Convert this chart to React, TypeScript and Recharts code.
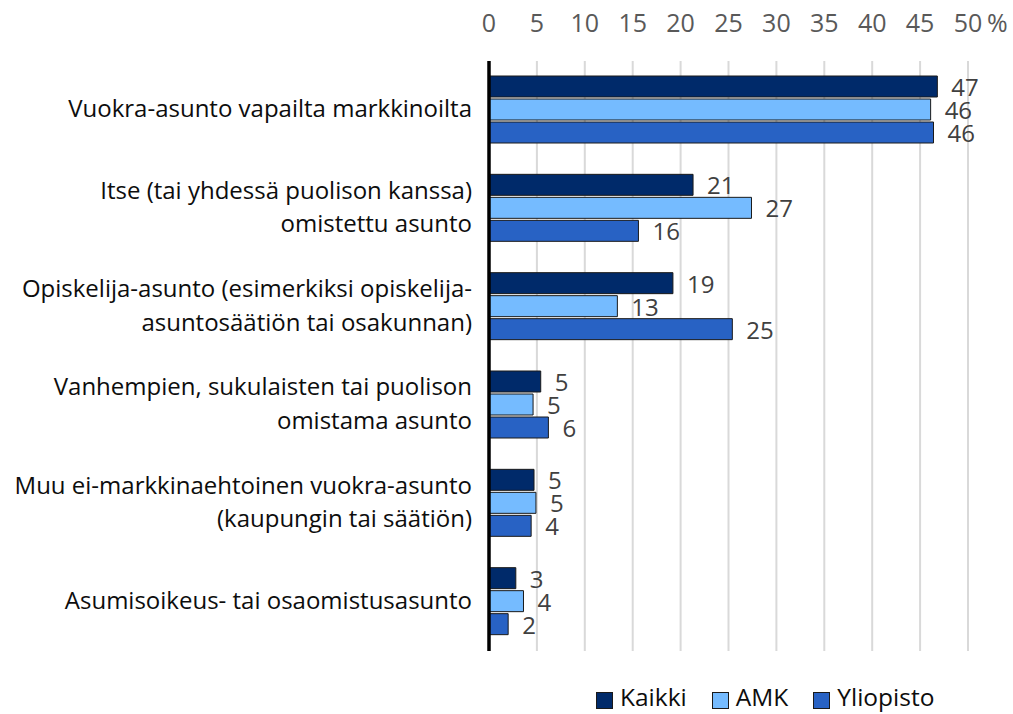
import { BarChart, Bar, XAxis, YAxis, CartesianGrid, Legend, LabelList } from "recharts";

const FONT = "'Open Sans', sans-serif";

const categories = [
  "Vuokra-asunto vapailta markkinoilta",
  "Itse (tai yhdessä puolison kanssa)\nomistettu asunto",
  "Opiskelija-asunto (esimerkiksi opiskelija-\nasuntosäätiön tai osakunnan)",
  "Vanhempien, sukulaisten tai puolison\nomistama asunto",
  "Muu ei-markkinaehtoinen vuokra-asunto\n(kaupungin tai säätiön)",
  "Asumisoikeus- tai osaomistusasunto",
];

// shares in % (labels are rounded)
const kaikki = [46.8, 21.3, 19.2, 5.4, 4.7, 2.8];
const amk = [46.1, 27.4, 13.4, 4.6, 4.9, 3.6];
const yliopisto = [46.4, 15.6, 25.4, 6.2, 4.4, 2.0];

const xTicks = [0, 5, 10, 15, 20, 25, 30, 35, 40, 45, 50];

const seriesKeys = ["kaikki", "amk", "yliopisto"];
const seriesNames = ["Kaikki", "AMK", "Yliopisto"];
const seriesColors = ["#002a6a", "#75bbff", "#2862c4"];

const data = categories.map((name, i) => ({
  name,
  kaikki: kaikki[i],
  amk: amk[i],
  yliopisto: yliopisto[i],
}));

function XTick({ x, y, payload }: any) {
  return (
    <g>
      <text x={x} y={y - 27} textAnchor="middle" fill="#595959" fontSize={25} fontFamily={FONT}>
        {payload.value}
      </text>
      {payload.value === 50 && (
        <text x={x + 19} y={y - 27} textAnchor="start" fill="#595959" fontSize={25} fontFamily={FONT}>
          %
        </text>
      )}
    </g>
  );
}

function YTick({ x, y, payload }: any) {
  const lines = String(payload.value).split("\n");
  const lh = 33.5;
  const first = y + 7 - ((lines.length - 1) * lh) / 2;
  return (
    <text x={x} y={first} textAnchor="end" fill="#0d0d0d" fontSize={24} fontFamily={FONT}>
      {lines.map((l, i) => (
        <tspan key={i} x={x} y={first + i * lh}>
          {l}
        </tspan>
      ))}
    </text>
  );
}

function ValueLabel(props: any) {
  const { x, y, width, height, value } = props;
  return (
    <text x={x + width + 14} y={y + height / 2 + 9.5} fill="#404040" fontSize={24} fontFamily={FONT}>
      {Math.round(value)}
    </text>
  );
}

function LegendContent() {
  return (
    <div style={{ display: "flex", alignItems: "center", fontFamily: FONT, fontSize: 24.5, color: "#0d0d0d", lineHeight: "26px" }}>
      {seriesNames.map((n, i) => (
        <div key={n} style={{ display: "flex", alignItems: "center", marginRight: 25 }}>
          <span
            style={{
              display: "inline-block",
              width: 15,
              height: 15,
              background: seriesColors[i],
              border: "1px solid #1a1a1a",
              marginRight: 7,
              marginTop: 6,
            }}
          />
          <span>{n}</span>
        </div>
      ))}
    </div>
  );
}

export default function App() {
  return (
    <div style={{ position: "absolute", left: 0, top: 0 }}>
      <BarChart
        width={1013}
        height={714}
        layout="vertical"
        data={data}
        margin={{ top: 21, right: 45, bottom: 63, left: 0 }}
        barCategoryGap={15}
        barGap={2}
      >
        <CartesianGrid horizontal={false} stroke="#d9d9d9" strokeWidth={2} />
        <XAxis
          type="number"
          orientation="top"
          domain={[0, 50]}
          ticks={xTicks}
          axisLine={false}
          tickLine={false}
          tickSize={0}
          height={40}
          tick={<XTick />}
          interval={0}
        />
        <YAxis
          type="category"
          dataKey="name"
          width={489}
          axisLine={{ stroke: "#000", strokeWidth: 3.5 }}
          tickLine={false}
          tickSize={0}
          tickMargin={17}
          tick={<YTick />}
          interval={0}
        />
        <Legend
          layout="horizontal"
          verticalAlign="middle"
          align="center"
          wrapperStyle={{ left: 596, top: 684, width: "auto" }}
          content={<LegendContent />}
        />
        {seriesKeys.map((k, i) => (
          <Bar key={k} dataKey={k} name={seriesNames[i]} fill={seriesColors[i]} stroke="#1a1a1a" strokeWidth={1} isAnimationActive={false}>
            <LabelList dataKey={k} content={<ValueLabel />} />
          </Bar>
        ))}
      </BarChart>
    </div>
  );
}
